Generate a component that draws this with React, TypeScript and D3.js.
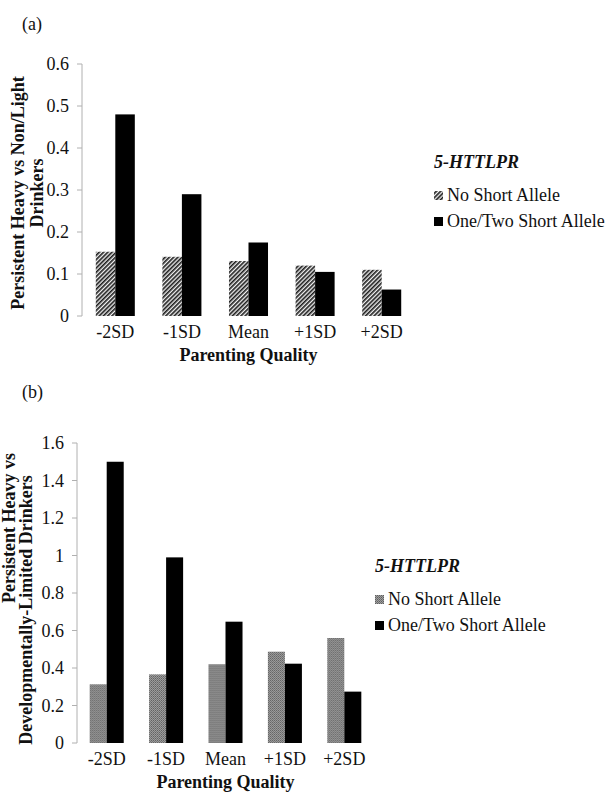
import React from "react";
import * as d3 from "d3";

const width = 608;
const height = 796;

const categories = ["-2SD", "-1SD", "Mean", "+1SD", "+2SD"];
const seriesNames = ["No Short Allele", "One/Two Short Allele"];

// panel (a): persistent heavy vs non/light drinkers
const noShortA = [0.153, 0.141, 0.131, 0.12, 0.11];
const shortA = [0.48, 0.29, 0.175, 0.105, 0.063];
const ticksA = [0, 0.1, 0.2, 0.3, 0.4, 0.5, 0.6];

// panel (b): persistent heavy vs developmentally-limited drinkers
const noShortB = [0.313, 0.366, 0.42, 0.487, 0.56];
const shortB = [1.5, 0.99, 0.647, 0.423, 0.274];
const ticksB = [0, 0.2, 0.4, 0.6, 0.8, 1, 1.2, 1.4, 1.6];

const serif = "'Liberation Serif', 'Times New Roman', 'DejaVu Serif', serif";
const fmt = (d: number) => String(+d.toFixed(1));

type TitleLine = { text: string; x: number; y: number; anchor: string };

type PanelProps = {
  label: string;
  labelY: number;
  values: number[][];
  ticks: number[];
  left: number;
  right: number;
  top: number;
  bottom: number;
  padInner: number;
  patternId: string;
  titleLines: TitleLine[];
  legendX: number;
  legendY: number;
};

function Panel(p: PanelProps) {
  const y = d3
    .scaleLinear()
    .domain([0, p.ticks[p.ticks.length - 1]])
    .range([p.bottom, p.top]);

  const x0 = d3
    .scaleBand<string>()
    .domain(categories)
    .range([p.left, p.right])
    .paddingInner(p.padInner)
    .paddingOuter(p.padInner / 2);

  const x1 = d3
    .scaleBand<string>()
    .domain(seriesNames)
    .range([0, x0.bandwidth()]);

  const fills = [`url(#${p.patternId})`, "#000"];
  const midX = (p.left + p.right) / 2;

  return (
    <g fill="#111">
      <text x={22} y={p.labelY} fontSize={18} fontFamily={serif}>
        {p.label}
      </text>

      {/* y axis */}
      <line x1={p.left} x2={p.left} y1={p.top} y2={p.bottom} stroke="#b0b0b0" />
      {p.ticks.map(t => (
        <g key={t}>
          <line
            x1={p.left - 5}
            x2={p.left}
            y1={y(t)}
            y2={y(t)}
            stroke="#b0b0b0"
          />
          <text
            x={p.left - 13}
            y={y(t)}
            dy="0.34em"
            textAnchor="end"
            fontSize={18}
            fontFamily={serif}
          >
            {fmt(t)}
          </text>
        </g>
      ))}

      {/* y title, one text per wrapped line */}
      {p.titleLines.map((l, i) => (
        <text
          key={i}
          transform={`translate(${l.x},${l.y}) rotate(-90)`}
          textAnchor={l.anchor}
          fontSize={18}
          fontWeight="bold"
          fontFamily={serif}
        >
          {l.text}
        </text>
      ))}

      {/* bars */}
      {categories.map((c, i) => (
        <g key={c} transform={`translate(${x0(c)},0)`}>
          {seriesNames.map((s, j) => (
            <rect
              key={s}
              x={x1(s)}
              y={y(p.values[j][i])}
              width={x1.bandwidth()}
              height={p.bottom - y(p.values[j][i])}
              fill={fills[j]}
            />
          ))}
          <text
            x={x0.bandwidth() / 2}
            y={p.bottom + 22}
            textAnchor="middle"
            fontSize={18}
            fontFamily={serif}
          >
            {c}
          </text>
        </g>
      ))}

      <text
        x={midX}
        y={p.bottom + 45}
        textAnchor="middle"
        fontSize={18}
        fontWeight="bold"
        fontFamily={serif}
      >
        Parenting Quality
      </text>

      {/* legend */}
      <text
        x={p.legendX}
        y={p.legendY}
        fontSize={18}
        fontWeight="bold"
        fontStyle="italic"
        fontFamily={serif}
      >
        5-HTTLPR
      </text>
      {seriesNames.map((s, j) => (
        <g key={s} transform={`translate(${p.legendX},${p.legendY + 33 + j * 26})`}>
          <rect x={0} y={-10} width={9} height={9} fill={fills[j]} />
          <text x={13} y={0} fontSize={18} fontFamily={serif}>
            {s}
          </text>
        </g>
      ))}
    </g>
  );
}

export default function App() {
  return (
    <svg
      width={width}
      height={height}
      style={{ position: "absolute", left: 0, top: 0, background: "#fff" }}
    >
      <defs>
        <pattern
          id="hatchA"
          patternUnits="userSpaceOnUse"
          width={3}
          height={3}
          patternTransform="rotate(45)"
        >
          <rect width={3} height={3} fill="#f2f2f2" />
          <line x1={0.8} y1={0} x2={0.8} y2={3} stroke="#1e1e1e" strokeWidth={1.7} />
        </pattern>
        <pattern id="hatchB" patternUnits="userSpaceOnUse" width={2} height={2}>
          <rect width={2} height={2} fill="#a0a0a0" />
          <rect width={1} height={1} fill="#5e5e5e" />
          <rect x={1} y={1} width={1} height={1} fill="#727272" />
        </pattern>
      </defs>

      <Panel
        label="(a)"
        labelY={30}
        values={[noShortA, shortA]}
        ticks={ticksA}
        left={82}
        right={415}
        top={64}
        bottom={316}
        padInner={0.414}
        patternId="hatchA"
        titleLines={[
          { text: "Persistent Heavy vs Non/Light", x: 24, y: 193, anchor: "middle" },
          { text: "Drinkers", x: 43, y: 193, anchor: "middle" }
        ]}
        legendX={434}
        legendY={168}
      />
      <Panel
        label="(b)"
        labelY={398}
        values={[noShortB, shortB]}
        ticks={ticksB}
        left={77}
        right={374}
        top={443}
        bottom={743}
        padInner={0.427}
        patternId="hatchB"
        titleLines={[
          { text: "Persistent Heavy vs", x: 15, y: 603, anchor: "start" },
          { text: "Developmentally-Limited Drinkers", x: 32, y: 610, anchor: "middle" }
        ]}
        legendX={375}
        legendY={572}
      />
    </svg>
  );
}
